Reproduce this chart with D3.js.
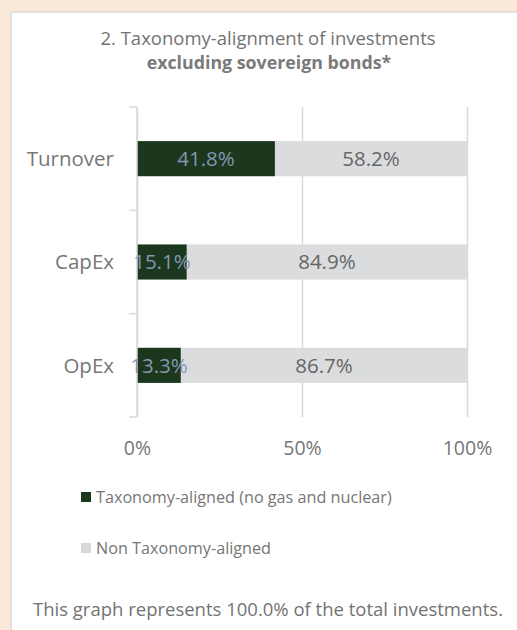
<!DOCTYPE html>
<html>
<head>
<meta charset="utf-8">
<script src="https://cdn.jsdelivr.net/npm/d3@7"></script>
<style>
  html, body { margin: 0; padding: 0; background: #FBE9DA; }
  svg { display: block; }
</style>
</head>
<body>
<svg id="chart" width="517" height="630"></svg>
<script>
const categories = ["Turnover", "CapEx", "OpEx"];
const alignedValues = [41.8, 15.1, 13.3];
const nonAlignedValues = [58.2, 84.9, 86.7];
const xTickValues = [0, 50, 100];
const seriesNames = ["Taxonomy-aligned (no gas and nuclear)", "Non Taxonomy-aligned"];
const titleLines = ["2. Taxonomy-alignment of investments", "excluding sovereign bonds*"];
const footnote = "This graph represents 100.0% of the total investments.";

const FONT = "'Open Sans', sans-serif";
const svg = d3.select("#chart");

// panel
svg.append("rect").attr("x", 11).attr("y", 12).attr("width", 520).attr("height", 630)
  .attr("fill", "#ffffff").attr("stroke", "#d9d9d9").attr("stroke-width", 1.5);

// title
svg.append("text").attr("x", 268).attr("y", 39).attr("dy", "0.35em").attr("text-anchor", "middle")
  .attr("font-family", FONT).attr("font-size", 18.5).attr("fill", "#737373").text(titleLines[0]);
svg.append("text").attr("x", 269).attr("y", 63).attr("dy", "0.35em").attr("text-anchor", "middle")
  .attr("font-family", FONT).attr("font-size", 17.8).attr("font-weight", "bold").attr("fill", "#7a7a7a").text(titleLines[1]);

const x = d3.scaleLinear().domain([0, 100]).range([137, 467]);
const y = d3.scaleBand().domain(categories).range([107, 417]).paddingInner(0.66).paddingOuter(0.33);

const rows = categories.map((c, i) => ({ cat: c, a: alignedValues[i], n: nonAlignedValues[i] }));
const stack = d3.stack().keys(["a", "n"])(rows);
const fills = ["#1B371E", "#DBDCDE"];

// gridlines (x axis)
const xAxis = d3.axisBottom(x).tickValues(xTickValues).tickFormat(d => d + "%")
  .tickSize(-(y.range()[1] - y.range()[0])).tickPadding(24);
const gx = svg.append("g").attr("transform", `translate(0,${y.range()[1]})`).call(xAxis);
gx.select(".domain").remove();
gx.selectAll(".tick line").attr("stroke", "#d9d9d9").attr("stroke-width", 1.5);
gx.selectAll(".tick text").attr("font-family", FONT).attr("font-size", 19.5).attr("fill", "#767676");

// bars
stack.forEach((layer, li) => {
  svg.append("g").selectAll("rect").data(layer).join("rect")
    .attr("x", d => x(d[0]))
    .attr("y", d => y(d.data.cat))
    .attr("width", d => x(d[1]) - x(d[0]))
    .attr("height", y.bandwidth())
    .attr("fill", fills[li]);
});

// y axis line + boundary ticks
const yAxisG = svg.append("g");
yAxisG.append("line").attr("x1", x(0)).attr("x2", x(0))
  .attr("y1", y.range()[0]).attr("y2", y.range()[1]).attr("stroke", "#d9d9d9").attr("stroke-width", 1.5);
d3.range(categories.length + 1).forEach(i => {
  const yy = y.range()[0] + i * (y.range()[1] - y.range()[0]) / categories.length;
  yAxisG.append("line").attr("x1", x(0) - 8).attr("x2", x(0)).attr("y1", yy).attr("y2", yy)
    .attr("stroke", "#d9d9d9").attr("stroke-width", 1.5);
});
yAxisG.selectAll("text.cat").data(categories).join("text").attr("class", "cat")
  .attr("x", 114).attr("y", d => y(d) + y.bandwidth() / 2).attr("dy", "0.35em")
  .attr("text-anchor", "end").attr("font-family", FONT).attr("font-size", 20.5).attr("fill", "#767676")
  .text(d => d);

// data labels
const labelColors = ["#8497B0", "#666666"];
stack.forEach((layer, li) => {
  svg.append("g").selectAll("text").data(layer).join("text")
    .attr("x", d => (x(d[0]) + x(d[1])) / 2)
    .attr("y", d => y(d.data.cat) + y.bandwidth() / 2)
    .attr("dy", "0.35em").attr("text-anchor", "middle")
    .attr("font-family", FONT).attr("font-size", 20.5).attr("fill", labelColors[li])
    .text(d => (d[1] - d[0]).toFixed(1) + "%");
});

// legend
const legend = svg.append("g");
const legendFills = ["#1B371E", "#D9D9D9"];
seriesNames.forEach((name, i) => {
  const ly = 497 + i * 51;
  legend.append("rect").attr("x", 81).attr("y", ly - 5).attr("width", 10).attr("height", 10).attr("fill", legendFills[i]);
  legend.append("text").attr("x", 96).attr("y", ly).attr("dy", "0.35em")
    .attr("font-family", FONT).attr("font-size", 16.2).attr("fill", "#767676").text(name);
});

// footnote
svg.append("text").attr("x", 268).attr("y", 610).attr("dy", "0.35em").attr("text-anchor", "middle")
  .attr("font-family", FONT).attr("font-size", 18.5).attr("fill", "#737373").text(footnote);
</script>
</body>
</html>
